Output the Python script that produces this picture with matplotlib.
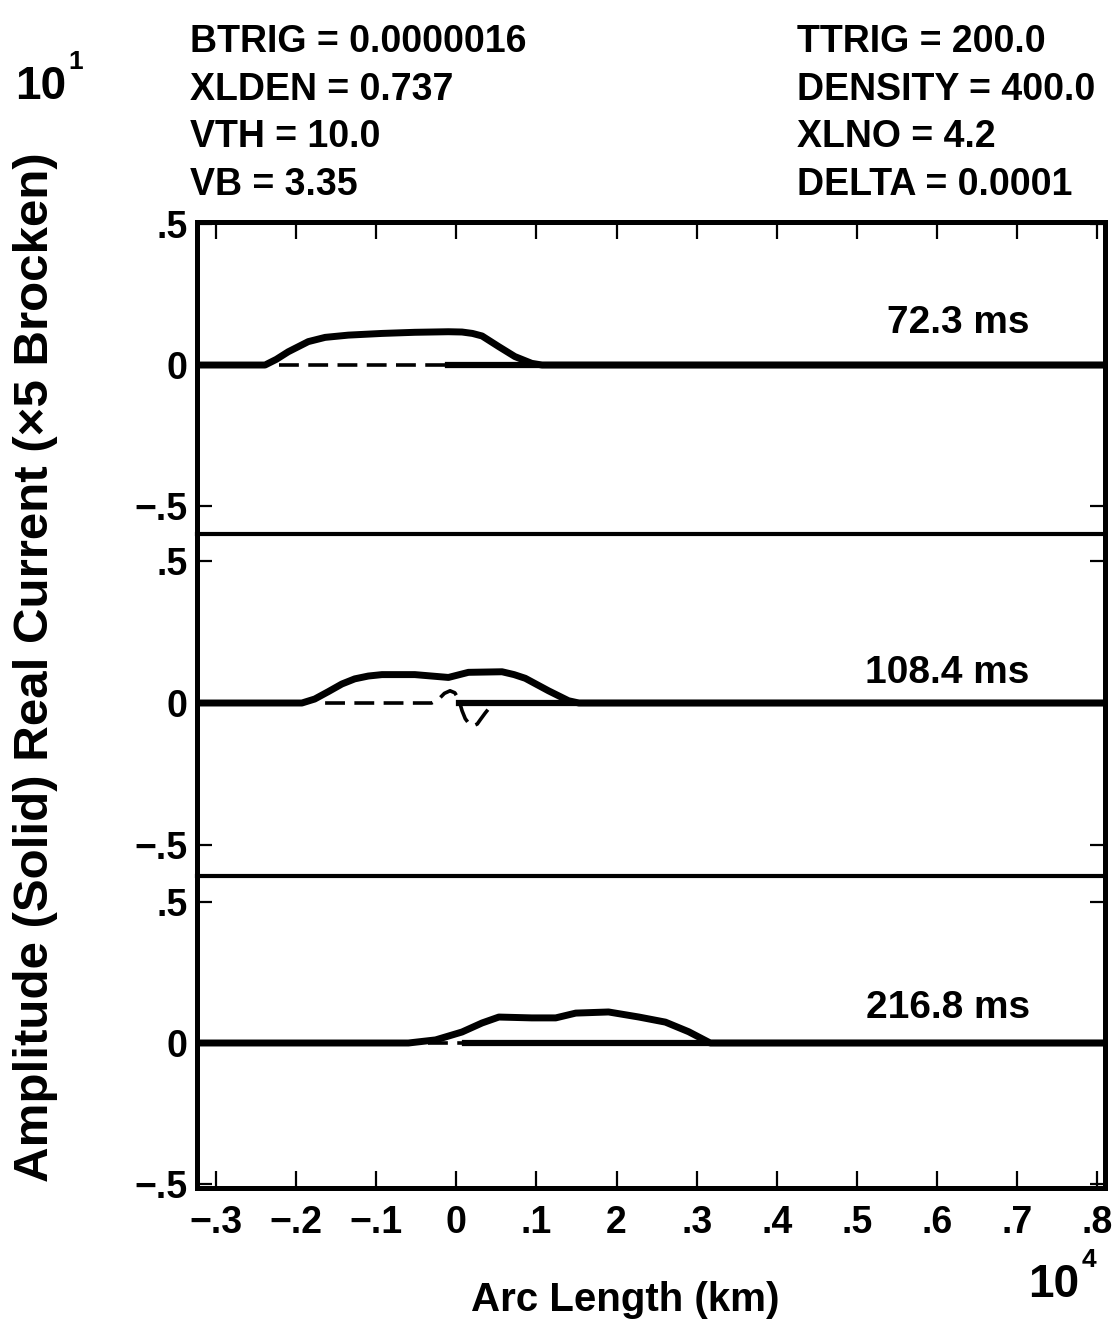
import matplotlib

matplotlib.use("Agg")
import matplotlib.pyplot as plt

W, H = 1115, 1329

X_TICKS = [-0.3, -0.2, -0.1, 0.0, 0.1, 0.2, 0.3, 0.4, 0.5, 0.6, 0.7, 0.8]
X_TICK_LABELS = ["\u2212.3", "\u2212.2", "\u2212.1", "0", ".1", "2",
                 ".3", ".4", ".5", ".6", ".7", ".8"]
Y_TICKS = [0.5, 0.0, -0.5]
Y_TICK_LABELS = [".5", "0", "\u2212.5"]

TIMES = ["72.3 ms", "108.4 ms", "216.8 ms"]

PARAMS_LEFT = ["BTRIG = 0.0000016", "XLDEN = 0.737", "VTH = 10.0", "VB = 3.35"]
PARAMS_RIGHT = ["TTRIG = 200.0", "DENSITY = 400.0", "XLNO = 4.2", "DELTA = 0.0001"]

# amplitude (solid), arc length in units of 10^4 km
AMP_X_1 = [-0.324, -0.239, -0.225, -0.21, -0.185, -0.164, -0.135, -0.093, -0.052,
           -0.01, 0.007, 0.02, 0.032, 0.053, 0.073, 0.094, 0.107, 0.81]
AMP_Y_1 = [0, 0, 0.02, 0.047, 0.083, 0.098, 0.106, 0.112, 0.116,
           0.118, 0.117, 0.112, 0.103, 0.065, 0.03, 0.006, 0, 0]
AMP_X_2 = [-0.324, -0.193, -0.177, -0.16, -0.143, -0.127, -0.11, -0.093, -0.052,
           -0.01, 0.015, 0.057, 0.072, 0.086, 0.115, 0.14, 0.153, 0.81]
AMP_Y_2 = [0, 0, 0.014, 0.04, 0.067, 0.085, 0.095, 0.1, 0.1,
           0.09, 0.108, 0.11, 0.1, 0.087, 0.043, 0.008, 0, 0]
AMP_X_3 = [-0.324, -0.06, -0.026, 0.007, 0.032, 0.053, 0.094, 0.124,
           0.149, 0.19, 0.228, 0.261, 0.29, 0.317, 0.81]
AMP_Y_3 = [0, 0, 0.011, 0.039, 0.071, 0.092, 0.089, 0.089,
           0.106, 0.11, 0.092, 0.074, 0.04, 0, 0]

# real current x5 (broken)
REAL_X_1 = [-0.222, -0.01]
REAL_Y_1 = [0, 0]
REAL_X_2 = [-0.164, -0.031, -0.022, -0.015, -0.008, -0.002, 0.003, 0.007, 0.011,
            0.016, 0.021, 0.026, 0.03, 0.036, 0.04]
REAL_Y_2 = [0, 0, 0.014, 0.034, 0.043, 0.036, 0.012, -0.027, -0.055,
            -0.074, -0.08, -0.074, -0.058, -0.035, -0.021]
REAL_X_3 = [-0.035, 0.011]
REAL_Y_3 = [0, 0]

# where the solid zero trace takes over from the broken one
ZERO_FROM = [-0.01, 0.003, 0.011]

AMP_X = [AMP_X_1, AMP_X_2, AMP_X_3]
AMP_Y = [AMP_Y_1, AMP_Y_2, AMP_Y_3]
REAL_X = [REAL_X_1, REAL_X_2, REAL_X_3]
REAL_Y = [REAL_Y_1, REAL_Y_2, REAL_Y_3]

XLIM = (-0.324, 0.81)
YLIMS = [(-0.599, 0.507), (-0.609, 0.595), (-0.514, 0.592)]
PANELS_PX = [(222, 534), (534, 876), (876, 1188)]
LEFT_PX, RIGHT_PX = 197, 1105
LABEL_Y = [0.149, 0.105, 0.124]

plt.rcParams["font.family"] = ["Liberation Sans", "DejaVu Sans"]
plt.rcParams["font.weight"] = "bold"

fig = plt.figure(figsize=(W / 100, H / 100), dpi=100)


def fx(px):
    return px / W


def fy(py):
    return 1 - py / H


axes = []
for i, (top, bot) in enumerate(PANELS_PX):
    ax = fig.add_axes([fx(LEFT_PX), fy(bot), (RIGHT_PX - LEFT_PX) / W, (bot - top) / H])
    ax.set_xlim(*XLIM)
    ax.set_ylim(*YLIMS[i])

    ax.plot(AMP_X[i], AMP_Y[i], color="black", lw=5, solid_joinstyle="round",
            solid_capstyle="butt", zorder=3)
    ax.plot(REAL_X[i], REAL_Y[i], color="black", lw=2.6, dashes=(5.5, 2.6), zorder=2)
    ax.plot([ZERO_FROM[i], XLIM[1]], [0, 0], color="black", lw=4.5, zorder=2)

    ax.text(0.716, LABEL_Y[i], TIMES[i], ha="right", va="center", fontsize=28)

    ax.set_yticks(Y_TICKS)
    ax.set_yticklabels(Y_TICK_LABELS)
    ax.set_xticks(X_TICKS)
    ax.tick_params(axis="y", direction="in", length=11, width=1.6, left=True,
                   right=True, labelsize=27, pad=7)
    ax.tick_params(axis="x", direction="in", length=12, width=1.6, labelsize=27, pad=12)

    for side in ("left", "right"):
        ax.spines[side].set_linewidth(3.6)
    if i == 0:
        ax.spines["top"].set_linewidth(3.6)
        ax.tick_params(axis="x", top=True, bottom=False, labelbottom=False)
    else:
        ax.spines["top"].set_linewidth(3.0)
        ax.tick_params(axis="x", top=False, bottom=(i == 2), labelbottom=(i == 2))
    if i == 2:
        ax.spines["bottom"].set_linewidth(3.6)
        ax.set_xticklabels(X_TICK_LABELS)
    else:
        ax.spines["bottom"].set_visible(False)
    axes.append(ax)

# parameter block
for j, (left, right) in enumerate(zip(PARAMS_LEFT, PARAMS_RIGHT)):
    yc = 42 + j * 47.7
    fig.text(fx(190), fy(yc), left, ha="left", va="center", fontsize=27)
    fig.text(fx(797), fy(yc), right, ha="left", va="center", fontsize=27)

# axis multipliers
fig.text(fx(15), fy(87), "10", ha="left", va="center", fontsize=33)
fig.text(fx(68), fy(62), "1", ha="left", va="center", fontsize=19)
fig.text(fx(1028), fy(1285), "10", ha="left", va="center", fontsize=33)
fig.text(fx(1082), fy(1260), "4", ha="left", va="center", fontsize=19)

fig.text(fx(625), fy(1300), "Arc Length (km)", ha="center", va="center", fontsize=29)
fig.text(fx(36), fy(667), "Amplitude (Solid) Real Current (\u00d75 Brocken)",
         ha="center", va="center", rotation=90, fontsize=35.5)

fig.savefig("out.png", dpi=100)
